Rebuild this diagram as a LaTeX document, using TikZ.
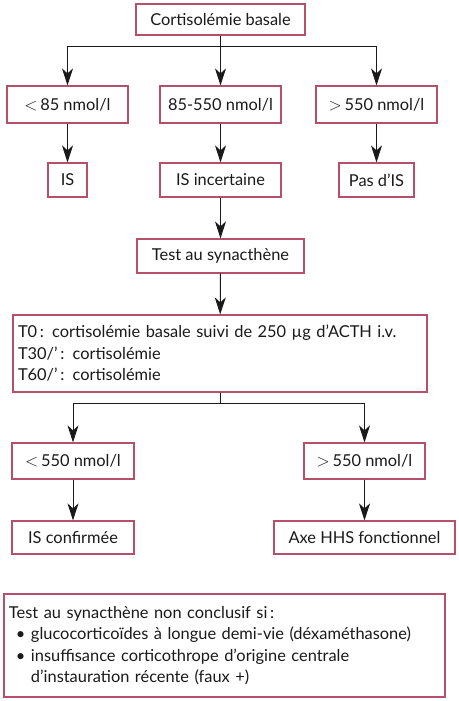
\documentclass[tikz,border=0pt]{standalone}
\usepackage{fontspec}
\setmainfont{Lato}
\usepackage{xcolor}
\usepackage{tikz}
\usetikzlibrary{arrows.meta}
\definecolor{frame}{HTML}{B4506A}
\definecolor{ink}{HTML}{1A1A1A}
\tikzset{
  box/.style={draw=frame, line width=1.2pt, fill=white, text=ink,
    font=\fontsize{16.4}{21.5}\selectfont, inner xsep=5pt, inner ysep=3pt,
    minimum height=33pt},
  wide/.style={box, align=left, text width=#1, inner xsep=5pt},
  arr/.style={draw=ink, line width=1pt,
    -{Stealth[length=17pt,width=11pt,inset=5pt]}},
  ln/.style={draw=ink, line width=1pt}
}

\begin{document}
\begin{tikzpicture}[x=1pt,y=-1pt]
  \useasboundingbox[fill=white] (0,0) rectangle (458,701);

  % first step
  \node[box, minimum width=169pt, minimum height=31pt] (basale) at (220.5,19.5) {Cortisolémie basale};
  \node[box, minimum width=121pt, minimum height=37pt] (lo) at (67.5,104.5) {$<$\,85 nmol/l};
  \node[box, minimum width=121pt, minimum height=37pt] (mid) at (220.5,104.5) {85-550 nmol/l};
  \node[box, minimum width=121pt, minimum height=37pt] (hi) at (376.5,104.5) {$>$\,550 nmol/l};
  \node[box, minimum width=39pt, minimum height=34pt] (is) at (67.5,180) {IS};
  \node[box, minimum width=121pt, minimum height=34pt] (isinc) at (220.5,180) {IS incertaine};
  \node[box, minimum width=75pt, minimum height=34pt] (pasis) at (376.5,180) {Pas d’IS};

  % test
  \node[box, minimum width=167pt, minimum height=34pt] (test) at (220.5,256) {Test au synacthène};
  \node[wide=404pt, minimum height=77pt] (proto) at (220,353.5)
    {T0\,: cortisolémie basale suivi de 250 µg d’ACTH i.v.\\
     T30/’\,: cortisolémie\\
     T60/’\,: cortisolémie};
  \node[box, minimum width=122pt, minimum height=36pt] (lores) at (73,461) {$<$\,550 nmol/l};
  \node[box, minimum width=121pt, minimum height=36pt] (hires) at (364.5,461) {$>$\,550 nmol/l};
  \node[box, minimum width=122pt] (conf) at (73,537.5) {IS confirmée};
  \node[box, minimum width=181pt] (hhs) at (364.5,537.5) {Axe HHS fonctionnel};

  % note
  \node[wide=431pt, minimum height=103pt] (note) at (224.5,645.5)
    {Test au synacthène non conclusif si\,:\\
     \hspace*{7pt}\textbullet\ glucocorticoïdes à longue demi-vie (déxaméthasone)\\
     \hspace*{7pt}\textbullet\ insuffisance corticothrope d’origine centrale\\
     \hspace*{7pt}\phantom{\textbullet\ }d’instauration récente (faux +)};

  % connectors
  \coordinate (split1) at (220.5,47);
  \coordinate (split2) at (220,403.5);
  \draw[ln] (basale) -- (split1);
  \draw[arr] (split1) -| (lo);
  \draw[arr] (split1) -- (mid);
  \draw[arr] (split1) -| (hi);
  \draw[arr] (lo) -- (is);
  \draw[arr] (mid) -- (isinc);
  \draw[arr] (hi) -- (pasis);
  \draw[arr] (isinc) -- (test);
  \draw[arr] (test) -- (proto);
  \draw[ln] (proto.south -| split2) -- (split2);
  \draw[arr] (split2) -| (lores);
  \draw[arr] (split2) -| (hires);
  \draw[arr] (lores) -- (conf);
  \draw[arr] (hires) -- (hhs);
\end{tikzpicture}
\end{document}
